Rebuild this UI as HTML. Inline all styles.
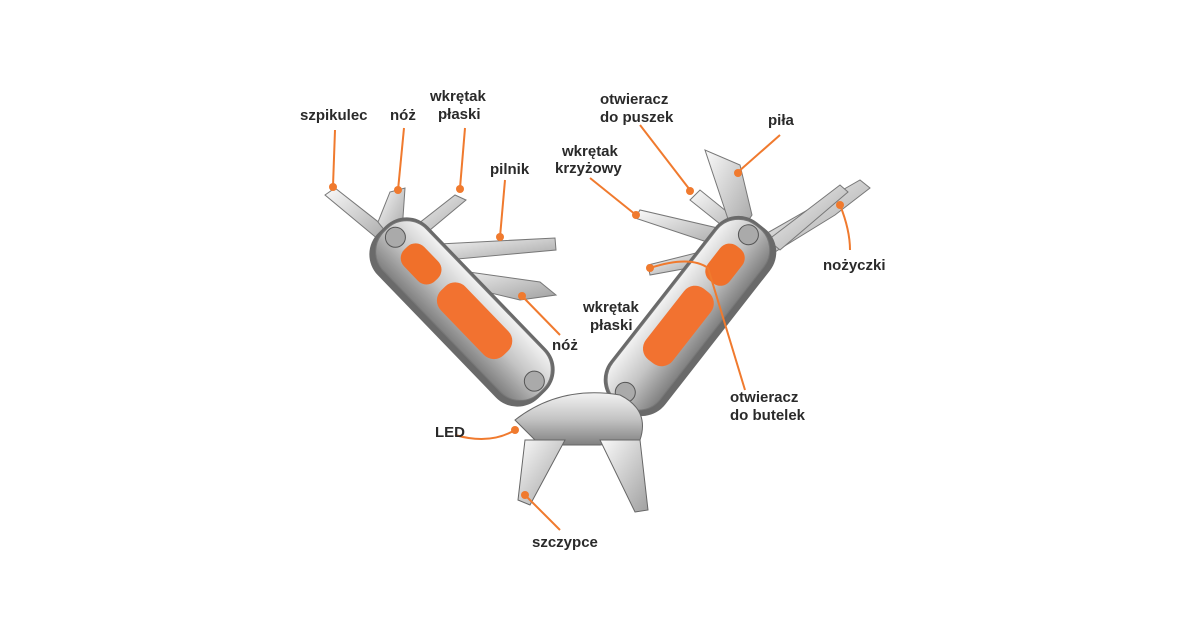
<!DOCTYPE html>
<html><head><meta charset="utf-8"><style>
html,body{margin:0;padding:0;background:#fff;}
svg{display:block}
text{font-family:"Liberation Sans",sans-serif;font-size:15px;font-weight:bold;fill:#2a2a2a;}
</style></head><body>
<svg width="1200" height="630" viewBox="0 0 1200 630" xmlns="http://www.w3.org/2000/svg">
<defs>
<linearGradient id="m" x1="0" y1="0" x2="0" y2="1">
<stop offset="0" stop-color="#f2f2f2"/><stop offset=".5" stop-color="#c4c4c4"/><stop offset="1" stop-color="#808080"/></linearGradient>
<linearGradient id="b" x1="0" y1="0" x2="1" y2="1">
<stop offset="0" stop-color="#fafafa"/><stop offset="1" stop-color="#a0a0a0"/></linearGradient>
</defs>
<rect width="1200" height="630" fill="#fff"/>
<g fill="url(#b)" stroke="#777" stroke-width="1">
<polygon points="385,245 325,195 335,188 395,235"/>
<polygon points="392,240 378,222 390,192 405,188 402,232"/>
<polygon points="400,238 455,195 466,200 412,245"/>
<polygon points="420,245 555,238 556,250 425,262"/>
<polygon points="440,268 540,282 556,295 520,300 445,282"/>
</g>
<g fill="url(#b)" stroke="#777" stroke-width="1">
<polygon points="740,240 690,200 700,190 752,232"/>
<polygon points="735,240 705,150 740,165 752,215"/>
<polygon points="725,248 635,218 640,210 735,232"/>
<polygon points="755,240 825,200 860,180 870,188 835,215 770,255"/>
<polygon points="705,265 650,275 648,265 700,252"/>
<polygon points="768,240 840,185 848,192 780,250"/>
</g>
<g transform="translate(462,312) rotate(46)">
<rect x="-115" y="-35" width="230" height="70" rx="30" fill="#6a6a6a"/>
<rect x="-112" y="-32" width="224" height="60" rx="28" fill="url(#m)" stroke="#777"/>
<rect x="-85" y="-18" width="44" height="28" rx="12" fill="#f0702a"/>
<rect x="-30" y="-20" width="90" height="34" rx="14" fill="#f27230"/>
<circle cx="-100" cy="-4" r="10" fill="#aaa" stroke="#555"/>
<circle cx="100" cy="-4" r="10" fill="#aaa" stroke="#555"/>
</g>
<g transform="translate(690,316) rotate(-52)">
<rect x="-115" y="-35" width="230" height="70" rx="30" fill="#6a6a6a"/>
<rect x="-112" y="-32" width="224" height="60" rx="28" fill="url(#m)" stroke="#777"/>
<rect x="40" y="-18" width="44" height="28" rx="12" fill="#f0702a"/>
<rect x="-60" y="-20" width="90" height="34" rx="14" fill="#f27230"/>
<circle cx="-100" cy="-4" r="10" fill="#aaa" stroke="#555"/>
<circle cx="100" cy="-4" r="10" fill="#aaa" stroke="#555"/>
</g>
<path d="M515,420 Q560,385 620,395 Q650,410 640,440 L600,445 L540,445 Z" fill="url(#m)" stroke="#666"/>
<polygon points="525,440 565,440 530,505 518,500" fill="url(#b)" stroke="#666"/>
<polygon points="600,440 640,440 648,510 635,512" fill="url(#b)" stroke="#666"/>
<g stroke="#f07a2e" stroke-width="2" fill="none">
<path d="M335,130 L333,186"/>
<path d="M404,128 L398,190"/>
<path d="M465,128 L460,188"/>
<path d="M505,180 L500,237"/>
<path d="M640,125 L690,190"/>
<path d="M780,135 L738,172"/>
<path d="M590,178 L636,215"/>
<path d="M840,205 Q850,230 850,250"/>
<path d="M650,268 Q690,255 708,268 L745,390"/>
<path d="M522,296 L560,335"/>
<path d="M455,435 Q490,445 515,430"/>
<path d="M525,495 L560,530"/>
</g>
<g fill="#f07a2e">
<circle cx="333" cy="187" r="4"/><circle cx="398" cy="190" r="4"/><circle cx="460" cy="189" r="4"/>
<circle cx="500" cy="237" r="4"/><circle cx="690" cy="191" r="4"/><circle cx="738" cy="173" r="4"/>
<circle cx="636" cy="215" r="4"/><circle cx="840" cy="205" r="4"/><circle cx="650" cy="268" r="4"/>
<circle cx="522" cy="296" r="4"/><circle cx="515" cy="430" r="4"/><circle cx="525" cy="495" r="4"/>
</g>
<text x="300" y="120">szpikulec</text>
<text x="390" y="120">nóż</text>
<text x="430" y="101">wkrętak</text>
<text x="438" y="119">płaski</text>
<text x="490" y="174">pilnik</text>
<text x="600" y="104">otwieracz</text>
<text x="600" y="122">do puszek</text>
<text x="768" y="125">piła</text>
<text x="562" y="156">wkrętak</text>
<text x="555" y="173">krzyżowy</text>
<text x="823" y="270">nożyczki</text>
<text x="583" y="312">wkrętak</text>
<text x="590" y="330">płaski</text>
<text x="552" y="350">nóż</text>
<text x="730" y="402">otwieracz</text>
<text x="730" y="420">do butelek</text>
<text x="435" y="437">LED</text>
<text x="532" y="547">szczypce</text>
</svg>
</body></html>
